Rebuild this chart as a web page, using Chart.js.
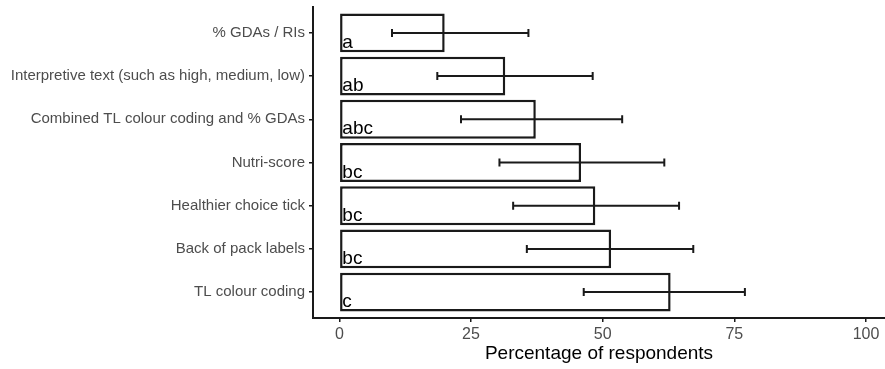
<!DOCTYPE html>
<html>
<head>
<meta charset="utf-8">
<script src="https://cdn.jsdelivr.net/npm/chart.js@4"></script>
<style>
  html, body { margin: 0; padding: 0; background: #fff; }
  #wrap { width: 885px; height: 369px; }
</style>
</head>
<body>
<div id="wrap"><canvas id="labelChart" width="885" height="369"></canvas></div>
<script>
// categories, top to bottom
const labels = [
    '% GDAs / RIs',
    'Interpretive text (such as high, medium, low)',
    'Combined TL colour coding and % GDAs',
    'Nutri-score',
    'Healthier choice tick',
    'Back of pack labels',
    'TL colour coding'
];
// percentage of respondents
const values = [20.0, 31.5, 37.3, 45.9, 48.6, 51.6, 62.9];
// error bar ends
const lower = [10.0, 18.6, 23.1, 30.4, 33.0, 35.6, 46.4];
const upper = [35.9, 48.1, 53.7, 61.7, 64.5, 67.2, 77.0];
// significance letters
const letters = ['a', 'ab', 'abc', 'bc', 'bc', 'bc', 'c'];
const xTicks = [0, 25, 50, 75, 100];

const FONT = "'Liberation Sans', Arial, sans-serif";
const INK = '#1a1a1a';

// error bars + letters drawn on top of the bars
const extras = {
    id: 'extras',
    afterDatasetsDraw(chart) {
        const ctx = chart.ctx;
        const xs = chart.scales.x, ys = chart.scales.y;
        ctx.save();
        ctx.strokeStyle = INK;
        ctx.lineWidth = 2;
        labels.forEach((lab, i) => {
            const y = ys.getPixelForValue(i);
            const x1 = xs.getPixelForValue(lower[i]);
            const x2 = xs.getPixelForValue(upper[i]);
            ctx.beginPath();
            ctx.moveTo(x1, y); ctx.lineTo(x2, y);
            ctx.moveTo(x1, y - 4); ctx.lineTo(x1, y + 4);
            ctx.moveTo(x2, y - 4); ctx.lineTo(x2, y + 4);
            ctx.stroke();

            ctx.fillStyle = '#000';
            ctx.font = '19px ' + FONT;
            ctx.textBaseline = 'alphabetic';
            ctx.textAlign = 'left';
            ctx.fillText(letters[i], xs.getPixelForValue(0) + 3, y + 15);
        });
        ctx.restore();
    }
};

new Chart(document.getElementById('labelChart'), {
    type: 'bar',
    data: {
        datasets: [{
            data: values.map((v, i) => ({ x: v, y: i })),
            backgroundColor: '#ffffff',
            borderColor: INK,
            borderWidth: 2.5,
            borderSkipped: false,
            barPercentage: 0.9,
            categoryPercentage: 1
        }]
    },
    options: {
        indexAxis: 'y',
        responsive: false,
        animation: false,
        layout: { padding: { top: 7, right: 0, left: 0, bottom: 0 } },
        plugins: { legend: { display: false }, tooltip: { enabled: false } },
        scales: {
            x: {
                type: 'linear',
                min: -5,
                max: 103.6,
                afterBuildTicks: s => { s.ticks = xTicks.map(v => ({ value: v })); },
                afterFit: s => { s.height = 51; },
                grid: { drawOnChartArea: false, drawTicks: true, tickLength: 4, color: INK, lineWidth: 1.5 },
                border: { display: true, color: INK, width: 2 },
                ticks: { color: '#4d4d4d', font: { family: FONT, size: 16 }, padding: 3 },
                title: { display: true, text: 'Percentage of respondents', color: '#000', font: { family: FONT, size: 19 }, padding: { top: 0 } }
            },
            y: {
                type: 'linear',
                reverse: true,
                offset: false,
                min: -0.6,
                max: 6.6,
                afterBuildTicks: s => { s.ticks = labels.map((l, i) => ({ value: i })); },
                afterFit: s => { s.width = 313; s.paddingTop = 0; s.paddingBottom = 0; },
                grid: { offset: false, drawOnChartArea: false, drawTicks: true, tickLength: 4, color: INK, lineWidth: 1.5 },
                border: { display: true, color: INK, width: 2 },
                ticks: { color: '#4d4d4d', font: { family: FONT, size: 15 }, padding: 4, callback: v => labels[v] }
            }
        }
    },
    plugins: [extras]
});
</script>
</body>
</html>
